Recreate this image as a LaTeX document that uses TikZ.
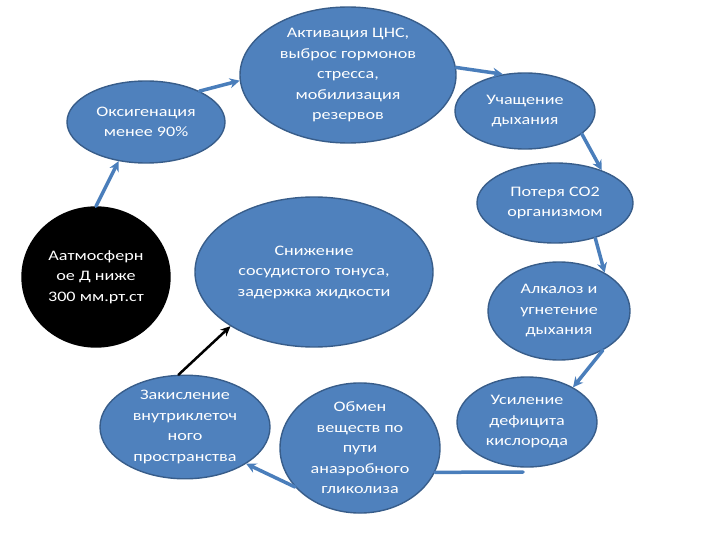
\documentclass[tikz,border=0pt]{standalone}
\usepackage{fontspec}
\setmainfont{Carlito}[FakeStretch=1.25]
\usetikzlibrary{shapes.geometric,arrows.meta}

\definecolor{ovalblue}{RGB}{79,129,189}
\definecolor{ovaledge}{RGB}{56,93,138}
\definecolor{arrblue}{RGB}{74,126,187}

\begin{document}
\begin{tikzpicture}[x=1pt, y=-1pt, line cap=round, line join=round,
  oval/.style={ellipse, draw=ovaledge, line width=1.4pt, fill=ovalblue,
    text=white, align=center, inner sep=0pt,
    font=\fontsize{14.5}{20.5}\selectfont},
  blackoval/.style={oval, draw=black, fill=black},
  arr/.style={draw=arrblue, line width=3.5pt, -{Stealth[length=10pt,width=10pt]}},
  blackarr/.style={draw=black, line width=2.5pt, -{Stealth[length=10pt,width=9pt]}}]
  \useasboundingbox (0,0) rectangle (720,540);

  \node[oval, minimum width=158pt, minimum height=82pt] (oks) at (146,122)
    {Оксигенация\\менее 90\%};
  \node[oval, minimum width=216pt, minimum height=136pt] (akt) at (348,75)
    {Активация ЦНС,\\выброс гормонов\\стресса,\\мобилизация\\резервов};
  \node[oval, minimum width=140pt, minimum height=76pt] (uch) at (525,111)
    {Учащение\\дыхания};
  \node[oval, minimum width=156pt, minimum height=80pt] (pot) at (555,203)
    {Потеря CO2\\организмом};
  \node[blackoval, minimum width=148pt, minimum height=140pt] (atm) at (96,277)
    {Аатмосферн\\ое Д ниже\\300 мм.рт.ст};
  \node[oval, minimum width=238pt, minimum height=150pt] (sniz) at (314,272)
    {Снижение\\сосудистого тонуса,\\задержка жидкости};
  \node[oval, minimum width=142pt, minimum height=98pt] (alk) at (559,311)
    {Алкалоз и\\угнетение\\дыхания};
  \node[oval, minimum width=140pt, minimum height=90pt] (usil) at (527,422)
    {Усиление\\дефицита\\кислорода};
  \node[oval, minimum width=170pt, minimum height=100pt] (zak) at (185,427)
    {Закисление\\внутриклеточ\\ного\\пространства};
  \node[oval, minimum width=160pt, minimum height=110pt] (obm) at (360,448)
    {Обмен\\веществ по\\пути\\анаэробного\\гликолиза};

  \coordinate (usilfoot) at (523,472);

  \draw[arr] (atm.north) -- (oks.-125);
  \draw[arr] (oks.30) -- (akt.183);
  \draw[arr] (akt.4) -- (uch.121);
  \draw[arr] (uch.-22) -- (pot.35);
  \draw[arr] (pot.-41) -- (alk.40);
  \draw[arr] (alk.-42) -- (usil.37);
  \draw[draw=arrblue, line width=3.5pt] (usilfoot) -- (obm.-18);
  \draw[arr] (obm.211) -- (zak.-31);
  \draw[blackarr] (zak.97) -- (sniz.213);
\end{tikzpicture}
\end{document}
